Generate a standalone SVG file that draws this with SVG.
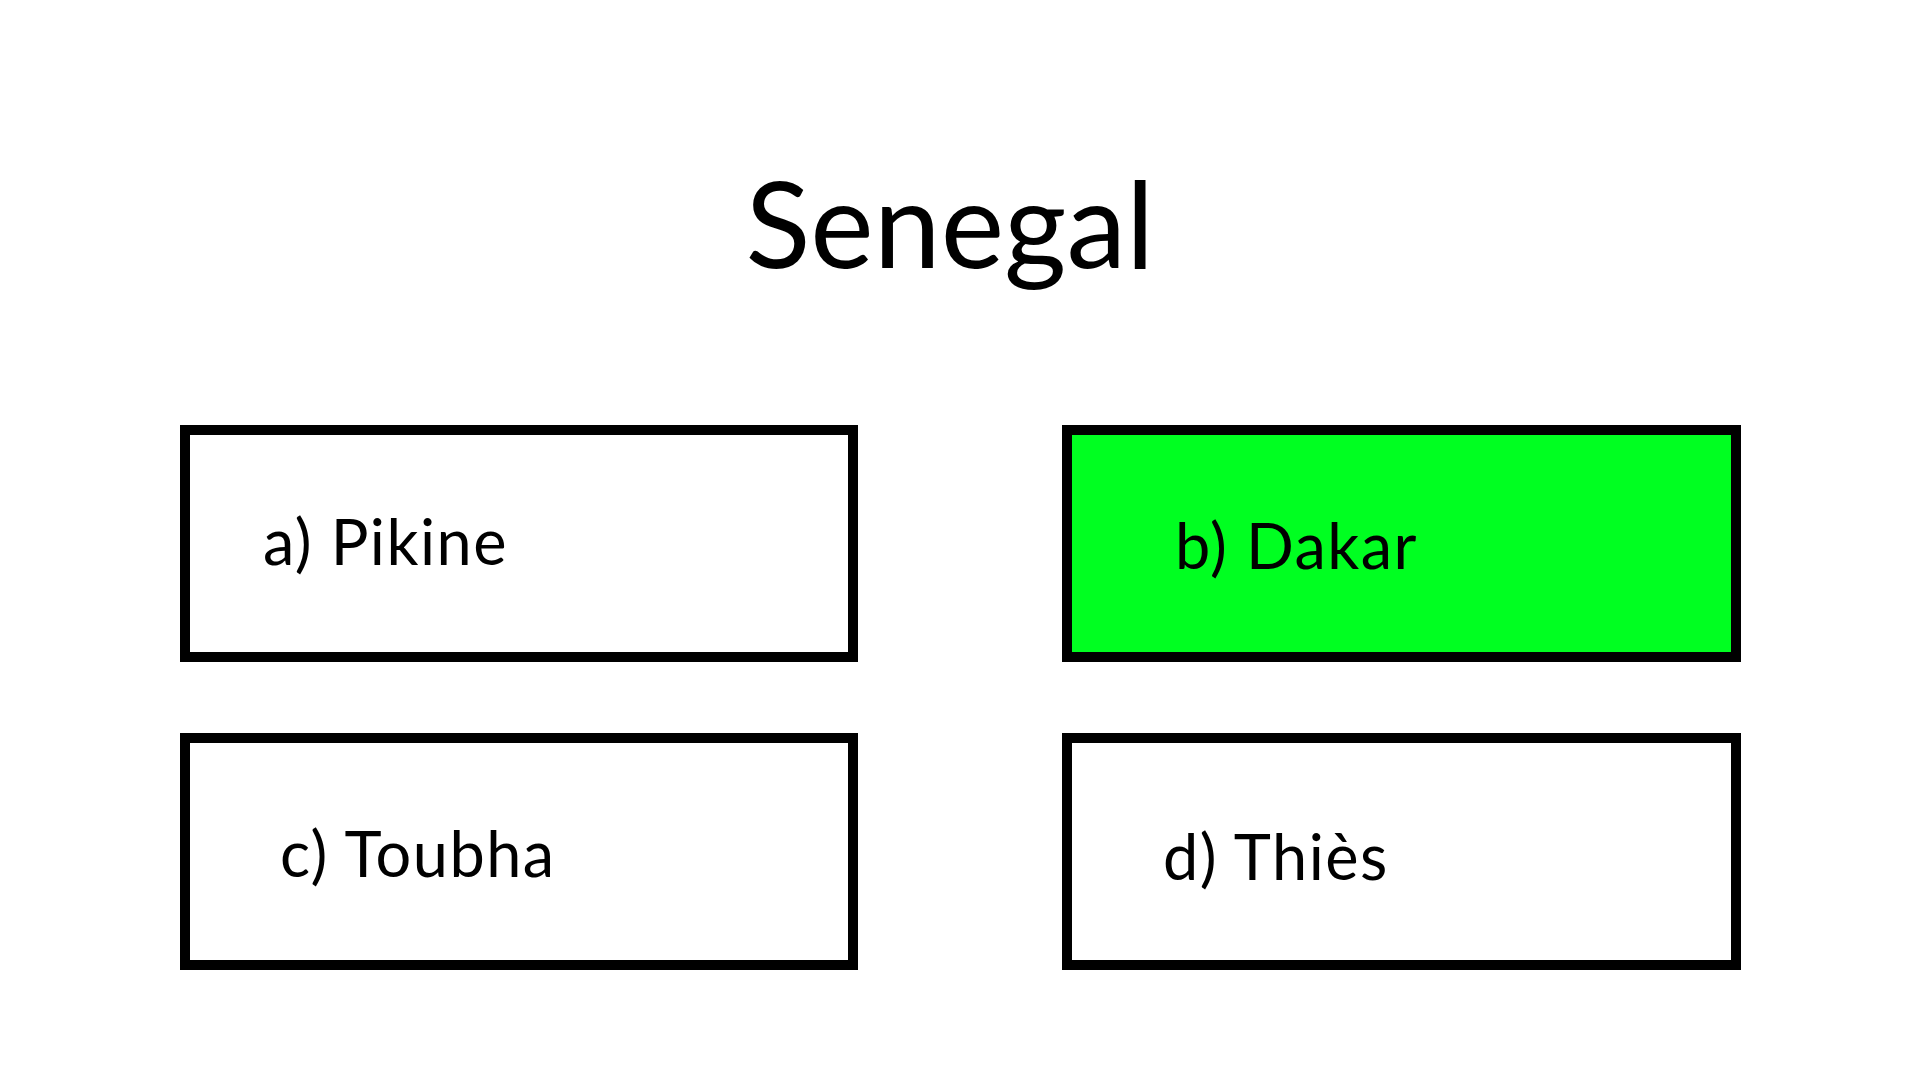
<svg xmlns="http://www.w3.org/2000/svg" width="1919" height="1079" viewBox="0 0 1919 1079">
<style>
.box{fill:#ffffff;stroke:#000000;stroke-width:10}
.ok{fill:#00ff21}
.t{font-family:Lato,"Open Sans",sans-serif;fill:#000000}
.opt{font-size:63px;letter-spacing:1.5px}
.title{font-size:120px}
</style>
<rect x="0" y="0" width="1919" height="1079" fill="#ffffff"/>
<g id="title"><text class="t title" x="950" y="268" text-anchor="middle">Senegal</text></g>
<g id="option-a"><rect class="box" x="185" y="430" width="668" height="227"/><text class="t opt" x="263" y="565">a) Pikine</text></g>
<g id="option-b"><rect class="box ok" x="1067" y="430" width="669" height="227"/><text class="t opt" x="1175" y="569">b) Dakar</text></g>
<g id="option-c"><rect class="box" x="185" y="738" width="668" height="227"/><text class="t opt" x="280" y="877">c) Toubha</text></g>
<g id="option-d"><rect class="box" x="1067" y="738" width="669" height="227"/><text class="t opt" x="1163" y="880">d) Thiès</text></g>
<g id="connectors"></g>
</svg>
